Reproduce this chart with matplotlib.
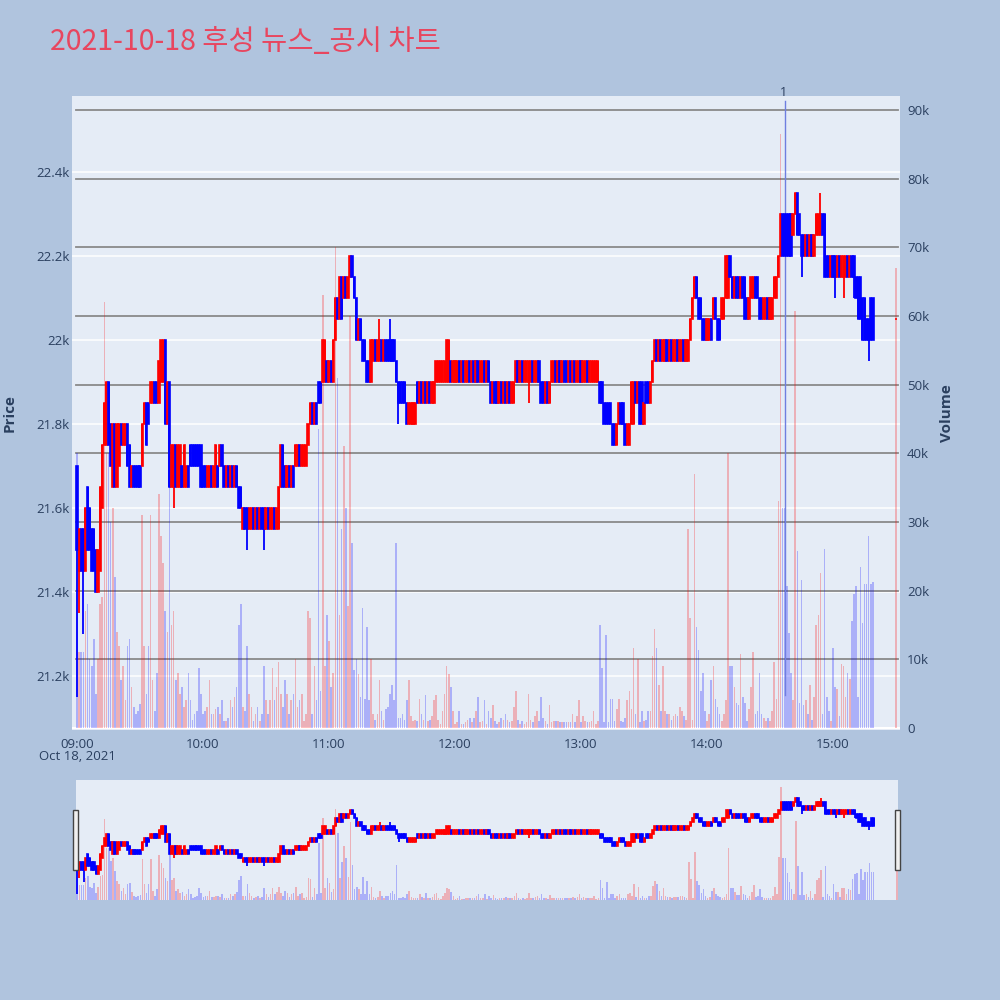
import numpy as np
import matplotlib.pyplot as plt
from matplotlib.patches import Rectangle

plt.rcParams['font.family'] = ['Open Sans', 'Noto Sans CJK KR', 'DejaVu Sans']

# minutes after 09:00 (continuous session to 15:19, closing auction bar at 15:30)
minutes = list(range(380)) + [390]

opens = [
    21700, 21450, 21550, 21550, 21450, 21650, 21600, 21550, 21550, 21500,
    21400, 21450, 21600, 21750, 21750, 21900, 21800, 21650, 21800, 21650,
    21700, 21800, 21750, 21750, 21800, 21750, 21650, 21700, 21700, 21700,
    21700, 21700, 21800, 21850, 21850, 21850, 21850, 21900, 21900, 21850,
    21900, 21900, 22000, 21800, 21900, 21650, 21650, 21750, 21650, 21650,
    21700, 21650, 21650, 21700, 21750, 21750, 21750, 21750, 21750, 21750,
    21700, 21700, 21650, 21650, 21700, 21650, 21650, 21700, 21700, 21750,
    21700, 21650, 21700, 21650, 21700, 21650, 21700, 21650, 21650, 21550,
    21600, 21600, 21550, 21550, 21600, 21550, 21600, 21550, 21600, 21600,
    21550, 21600, 21550, 21550, 21600, 21550, 21550, 21650, 21750, 21700,
    21650, 21700, 21650, 21700, 21700, 21700, 21750, 21700, 21700, 21700,
    21750, 21800, 21850, 21800, 21850, 21900, 21900, 21900, 21900, 21950,
    21900, 21950, 21900, 22000, 22100, 22050, 22150, 22100, 22150, 22100,
    22150, 22200, 22150, 22100, 22000, 22050, 22000, 22000, 21950, 21950,
    21900, 21950, 22000, 21950, 21950, 22000, 21950, 22000, 22000, 22000,
    22000, 22000, 21950, 21900, 21900, 21900, 21900, 21850, 21800, 21800,
    21800, 21800, 21900, 21850, 21900, 21850, 21900, 21850, 21900, 21850,
    21850, 21900, 21900, 21900, 21900, 21900, 21900, 21900, 21950, 21900,
    21900, 21900, 21950, 21900, 21950, 21900, 21900, 21950, 21900, 21950,
    21900, 21950, 21900, 21900, 21950, 21900, 21950, 21900, 21850, 21900,
    21900, 21850, 21900, 21850, 21900, 21850, 21900, 21850, 21850, 21900,
    21950, 21900, 21950, 21900, 21900, 21900, 21900, 21950, 21900, 21900,
    21950, 21900, 21900, 21850, 21900, 21850, 21900, 21900, 21950, 21900,
    21950, 21900, 21950, 21950, 21900, 21950, 21900, 21950, 21900, 21900,
    21950, 21900, 21900, 21950, 21900, 21900, 21900, 21900, 21900, 21900,
    21900, 21850, 21850, 21850, 21850, 21800, 21800, 21750, 21800, 21850,
    21850, 21800, 21750, 21750, 21800, 21800, 21900, 21850, 21900, 21900,
    21800, 21900, 21900, 21850, 21900, 21950, 22000, 21950, 22000, 21950,
    21950, 22000, 21950, 22000, 21950, 21950, 22000, 21950, 21950, 22000,
    21950, 21950, 22000, 22050, 22100, 22150, 22100, 22100, 22050, 22050,
    22000, 22000, 22050, 22050, 22100, 22050, 22050, 22050, 22050, 22100,
    22100, 22200, 22150, 22100, 22150, 22150, 22100, 22150, 22150, 22100,
    22050, 22100, 22100, 22150, 22150, 22100, 22100, 22050, 22050, 22100,
    22050, 22050, 22100, 22100, 22150, 22200, 22300, 22300, 22300, 22300,
    22300, 22250, 22300, 22350, 22300, 22250, 22250, 22200, 22250, 22200,
    22250, 22200, 22250, 22250, 22250, 22300, 22300, 22200, 22200, 22150,
    22200, 22200, 22150, 22200, 22150, 22150, 22150, 22200, 22150, 22200,
    22200, 22150, 22150, 22150, 22100, 22100, 22050, 22050, 22100, 22100,
    22050,
]

closes = [
    21500, 21550, 21450, 21450, 21600, 21500, 21500, 21450, 21450, 21400,
    21500, 21650, 21750, 21850, 21900, 21750, 21700, 21800, 21650, 21800,
    21800, 21750, 21800, 21800, 21700, 21650, 21700, 21650, 21650, 21650,
    21650, 21800, 21850, 21750, 21800, 21900, 21900, 21850, 21850, 21950,
    22000, 22000, 21800, 21900, 21650, 21750, 21750, 21650, 21750, 21750,
    21650, 21750, 21700, 21650, 21700, 21700, 21700, 21700, 21700, 21650,
    21650, 21650, 21700, 21700, 21650, 21700, 21750, 21650, 21750, 21700,
    21650, 21700, 21650, 21700, 21650, 21700, 21650, 21600, 21600, 21600,
    21550, 21550, 21600, 21600, 21550, 21600, 21550, 21600, 21550, 21550,
    21600, 21550, 21600, 21600, 21550, 21600, 21650, 21750, 21650, 21650,
    21700, 21650, 21700, 21650, 21750, 21750, 21700, 21750, 21750, 21750,
    21800, 21850, 21800, 21850, 21800, 21850, 21850, 22000, 22000, 21900,
    21950, 21900, 22000, 22100, 22050, 22150, 22050, 22150, 22100, 22150,
    22200, 22150, 22100, 22000, 22050, 22000, 21950, 21950, 21900, 21900,
    22000, 22000, 21950, 22000, 22000, 21950, 22000, 21950, 21950, 21950,
    21950, 21950, 21900, 21850, 21850, 21850, 21850, 21800, 21850, 21850,
    21850, 21850, 21850, 21900, 21850, 21900, 21850, 21900, 21850, 21900,
    21900, 21950, 21950, 21950, 21950, 21950, 22000, 22000, 21900, 21950,
    21950, 21950, 21900, 21950, 21900, 21950, 21950, 21900, 21950, 21900,
    21950, 21900, 21950, 21950, 21900, 21950, 21900, 21850, 21900, 21850,
    21850, 21900, 21850, 21900, 21850, 21900, 21850, 21900, 21900, 21950,
    21900, 21950, 21900, 21950, 21950, 21950, 21950, 21900, 21950, 21950,
    21900, 21850, 21850, 21900, 21850, 21900, 21950, 21950, 21900, 21950,
    21900, 21950, 21900, 21900, 21950, 21900, 21950, 21900, 21950, 21950,
    21900, 21950, 21950, 21900, 21950, 21950, 21950, 21950, 21950, 21850,
    21850, 21800, 21800, 21800, 21800, 21750, 21750, 21800, 21850, 21800,
    21800, 21750, 21800, 21800, 21900, 21900, 21850, 21900, 21800, 21800,
    21850, 21850, 21850, 21900, 21950, 22000, 21950, 22000, 21950, 22000,
    22000, 21950, 22000, 21950, 22000, 22000, 21950, 22000, 22000, 21950,
    22000, 22000, 22050, 22100, 22150, 22100, 22050, 22050, 22000, 22000,
    22050, 22050, 22000, 22100, 22050, 22000, 22000, 22100, 22100, 22200,
    22200, 22150, 22100, 22150, 22100, 22100, 22150, 22100, 22050, 22050,
    22100, 22150, 22150, 22100, 22100, 22050, 22050, 22100, 22100, 22050,
    22100, 22100, 22150, 22150, 22200, 22300, 22200, 22200, 22200, 22200,
    22200, 22300, 22350, 22250, 22250, 22200, 22200, 22250, 22200, 22250,
    22200, 22250, 22300, 22300, 22300, 22250, 22150, 22150, 22150, 22200,
    22150, 22150, 22200, 22150, 22200, 22200, 22200, 22150, 22200, 22150,
    22150, 22100, 22050, 22050, 22000, 22000, 22000, 22000, 22000, 22000,
    22050,
]

# shadows that reach past the candle body
wick_minutes = [0, 1, 3, 46, 81, 89, 144, 149, 153, 215, 345, 354, 361, 365, 370, 377]
wick_prices = [21150, 21350, 21300, 21600, 21500, 21500, 22050, 22050, 21800, 21850,
               22150, 22350, 22100, 22100, 22100, 21950]

# volume per minute, thousand shares
volume_k = [
    40, 11, 11, 11, 17, 18, 10, 9, 13, 5,
    10, 18, 19, 62, 40, 40, 30, 32, 22, 14,
    12, 7, 9, 4, 12, 13, 6, 3, 2, 2.5,
    3.5, 31, 12, 5, 12, 31, 7, 2.5, 8, 34,
    28, 24, 17, 14, 36, 15, 17, 7, 8, 5,
    6, 3, 4, 8, 4, 1.2, 2, 2.4, 8.7, 5,
    2, 2.5, 3, 7, 2, 2, 2.7, 3, 2, 4,
    1, 1, 1.5, 4, 3, 4.5, 6, 15, 18, 3,
    2.5, 12, 5, 3, 1, 2, 3, 1, 2, 9,
    4, 2, 4, 8.7, 4, 6, 9.6, 5, 3, 7,
    5, 2, 4, 5, 10, 3, 4, 5, 1, 2,
    17, 16, 2, 9, 4, 43.5, 5.4, 63, 9, 16.5,
    12.6, 6, 8, 70, 51, 16.5, 29, 41, 32, 17.7,
    60, 27, 8.4, 10, 7.8, 4.5, 17.4, 4.2, 14.7, 4,
    10, 2, 1.2, 2, 7, 2.4, 1.2, 2.7, 3, 5,
    6.3, 4, 27, 1.5, 1.5, 2, 1.2, 4, 7, 1.8,
    1, 1.2, 1, 4.2, 2, 1.2, 4.8, 1, 1.2, 1.8,
    4, 4.8, 1.2, 0.6, 2.4, 5, 9, 7.8, 6, 2.4,
    0.6, 0.9, 2.4, 0.6, 0.6, 0.9, 1.2, 1.5, 0.9, 1.5,
    2.4, 4.5, 0.9, 1, 4, 0.6, 2.4, 1.5, 3.3, 1,
    0.6, 0.9, 1.5, 1.2, 2, 1.2, 0.9, 1, 3, 5.4,
    1.2, 0.6, 1, 0.6, 0.9, 5, 1.2, 0.9, 1.8, 2.4,
    1, 4.5, 1.5, 1, 0.6, 3.3, 0.9, 1, 1, 1,
    0.9, 0.9, 0.9, 0.9, 0.9, 0.9, 2, 0.9, 1.8, 4,
    0.9, 1.8, 1, 0.9, 0.9, 1, 2.4, 0.6, 1, 15,
    8.7, 0.9, 13.5, 0.9, 4.2, 4.2, 1, 2.7, 4.2, 1,
    0.9, 1.5, 4, 5.4, 2.7, 11.7, 2, 10, 0.9, 2.4,
    1, 1.2, 2.4, 2.4, 10.5, 14.4, 11.7, 6.3, 2.4, 9,
    2.4, 2, 2, 1.2, 1.8, 2, 1.8, 3, 2.4, 1.8,
    1.2, 29, 16, 1.2, 37, 14.7, 11.4, 5.4, 8, 2.4,
    1, 2, 7, 9, 4.2, 3, 2, 1, 2, 4,
    40, 9, 9, 6, 3.6, 3.3, 10.8, 4.5, 3.6, 1,
    2.7, 6, 11, 2, 2.4, 8, 2, 1.5, 1, 1.5,
    1, 2.4, 9.6, 4.2, 33, 86.5, 32, 32, 20.7, 13.8,
    8, 4, 60.7, 25.8, 3.6, 21.6, 3.3, 4, 2, 6.3,
    1.2, 4.5, 15, 16.5, 22.5, 2, 26, 4.5, 2.4, 1,
    11.7, 6, 5.7, 1.8, 9.3, 9, 4.5, 8, 7.2, 15.6,
    19.5, 20.7, 4.5, 23.4, 15.3, 21, 21, 28, 21, 21.3,
    67,
]

tick_minutes = [0, 60, 120, 180, 240, 300, 360]
tick_labels = ['09:00', '10:00', '11:00', '12:00', '13:00', '14:00', '15:00']
price_ticks = [21200, 21400, 21600, 21800, 22000, 22200, 22400]
price_labels = ['21.2k', '21.4k', '21.6k', '21.8k', '22k', '22.2k', '22.4k']
vol_ticks = [0, 10000, 20000, 30000, 40000, 50000, 60000, 70000, 80000, 90000]
vol_labels = ['0', '10k', '20k', '30k', '40k', '50k', '60k', '70k', '80k', '90k']
news_minute = 337
news_label = '1'

PRICE_LIM = (21071, 22581)
VOL_LIM = (-300, 92040)
BG = '#b0c4de'
PLOT_BG = '#e5ecf6'
TXT = '#2a3f5f'
UP, DOWN = '#ff0000', '#0000ff'


def p2v(p):
    return VOL_LIM[0] + (p - PRICE_LIM[0]) / (PRICE_LIM[1] - PRICE_LIM[0]) * (VOL_LIM[1] - VOL_LIM[0])


def draw(axv, axp, grids=True):
    x = np.array(minutes)
    o = np.array(opens)
    c = np.array(closes)
    col = np.where(c >= o, UP, DOWN)
    hi = np.maximum(o, c)
    lo = np.minimum(o, c)
    whi = hi.copy()
    wlo = lo.copy()
    for m, p in zip(wick_minutes, wick_prices):
        i = minutes.index(m)
        whi[i] = max(whi[i], p)
        wlo[i] = min(wlo[i], p)

    if grids:
        for p in price_ticks:
            axv.axhline(p2v(p), color='white', lw=1.1, zorder=0)
        for v in vol_ticks[1:]:
            axv.axhline(v, xmin=0.005, xmax=0.997, color='#8a8a8a', lw=1.3, zorder=0.5)
        axv.axhline(0, color='white', lw=1.5, zorder=0.5)

    axv.bar(x, np.array(volume_k) * 1000, width=0.75, color=col, alpha=0.25,
            linewidth=0, zorder=1)

    axp.vlines(x, wlo, whi, colors=col, lw=1.3, zorder=2)
    axp.bar(x, hi - lo, bottom=lo, width=0.6, color=col, edgecolor=col,
            linewidth=1.2, zorder=3)

    axv.set_ylim(*VOL_LIM)
    axp.set_ylim(*PRICE_LIM)


fig = plt.figure(figsize=(10, 10), dpi=100, facecolor=BG)

# main chart: volume axis underneath, price axis on top
axv = fig.add_axes([0.072, 0.270, 0.828, 0.634])
axp = axv.twinx()
axv.set_facecolor(PLOT_BG)
axp.set_facecolor('none')
draw(axv, axp)
axv.set_xlim(-2.4, 391.9)

axp.yaxis.tick_left()
axp.yaxis.set_label_position('left')
axv.yaxis.tick_right()
axv.yaxis.set_label_position('right')

axp.set_yticks(price_ticks)
axp.set_yticklabels(price_labels)
axv.set_yticks(vol_ticks)
axv.set_yticklabels(vol_labels)
axv.set_xticks(tick_minutes)
axv.set_xticklabels(tick_labels)

for ax in (axv, axp):
    for s in ax.spines.values():
        s.set_visible(False)
    ax.tick_params(length=0, labelsize=9.5, colors=TXT)
axp.tick_params(axis='y', pad=2)
axv.tick_params(axis='y', pad=5)
axv.tick_params(axis='x', pad=6)

axp.set_ylabel('Price', fontsize=11, fontweight='bold', color=TXT, labelpad=14)
axv.set_ylabel('Volume', fontsize=11, fontweight='bold', color=TXT, labelpad=8)

fig.text(0.077, 0.243, 'Oct 18, 2021', ha='center', va='center', fontsize=9.5, color=TXT)

# news marker
axv.plot([news_minute, news_minute], [4800, 91300], color='#6f7fe0', lw=1.0, zorder=4)
axv.text(news_minute - 0.5, 91600, news_label, ha='center', va='bottom', fontsize=9,
         color=TXT, zorder=5)

fig.text(0.05, 0.958, '2021-10-18 후성 뉴스_공시 차트', fontsize=20.5, color='#e8465f',
         ha='left', va='center', family=['Noto Sans CJK KR', 'DejaVu Sans'])

# range slider
sv = fig.add_axes([0.076, 0.100, 0.822, 0.120])
sp = sv.twinx()
sv.set_facecolor(PLOT_BG)
sp.set_facecolor('none')
draw(sv, sp, grids=False)
sv.set_xlim(-0.6, 390.6)
for ax in (sv, sp):
    ax.set_xticks([])
    ax.set_yticks([])
    for s in ax.spines.values():
        s.set_visible(False)

for left in (0.073, 0.895):
    fig.patches.append(Rectangle((left, 0.130), 0.005, 0.060, transform=fig.transFigure,
                                 facecolor='#f0f0f0', edgecolor='#444444', lw=1.0))

fig.savefig('out.png', dpi=100, facecolor=BG)
